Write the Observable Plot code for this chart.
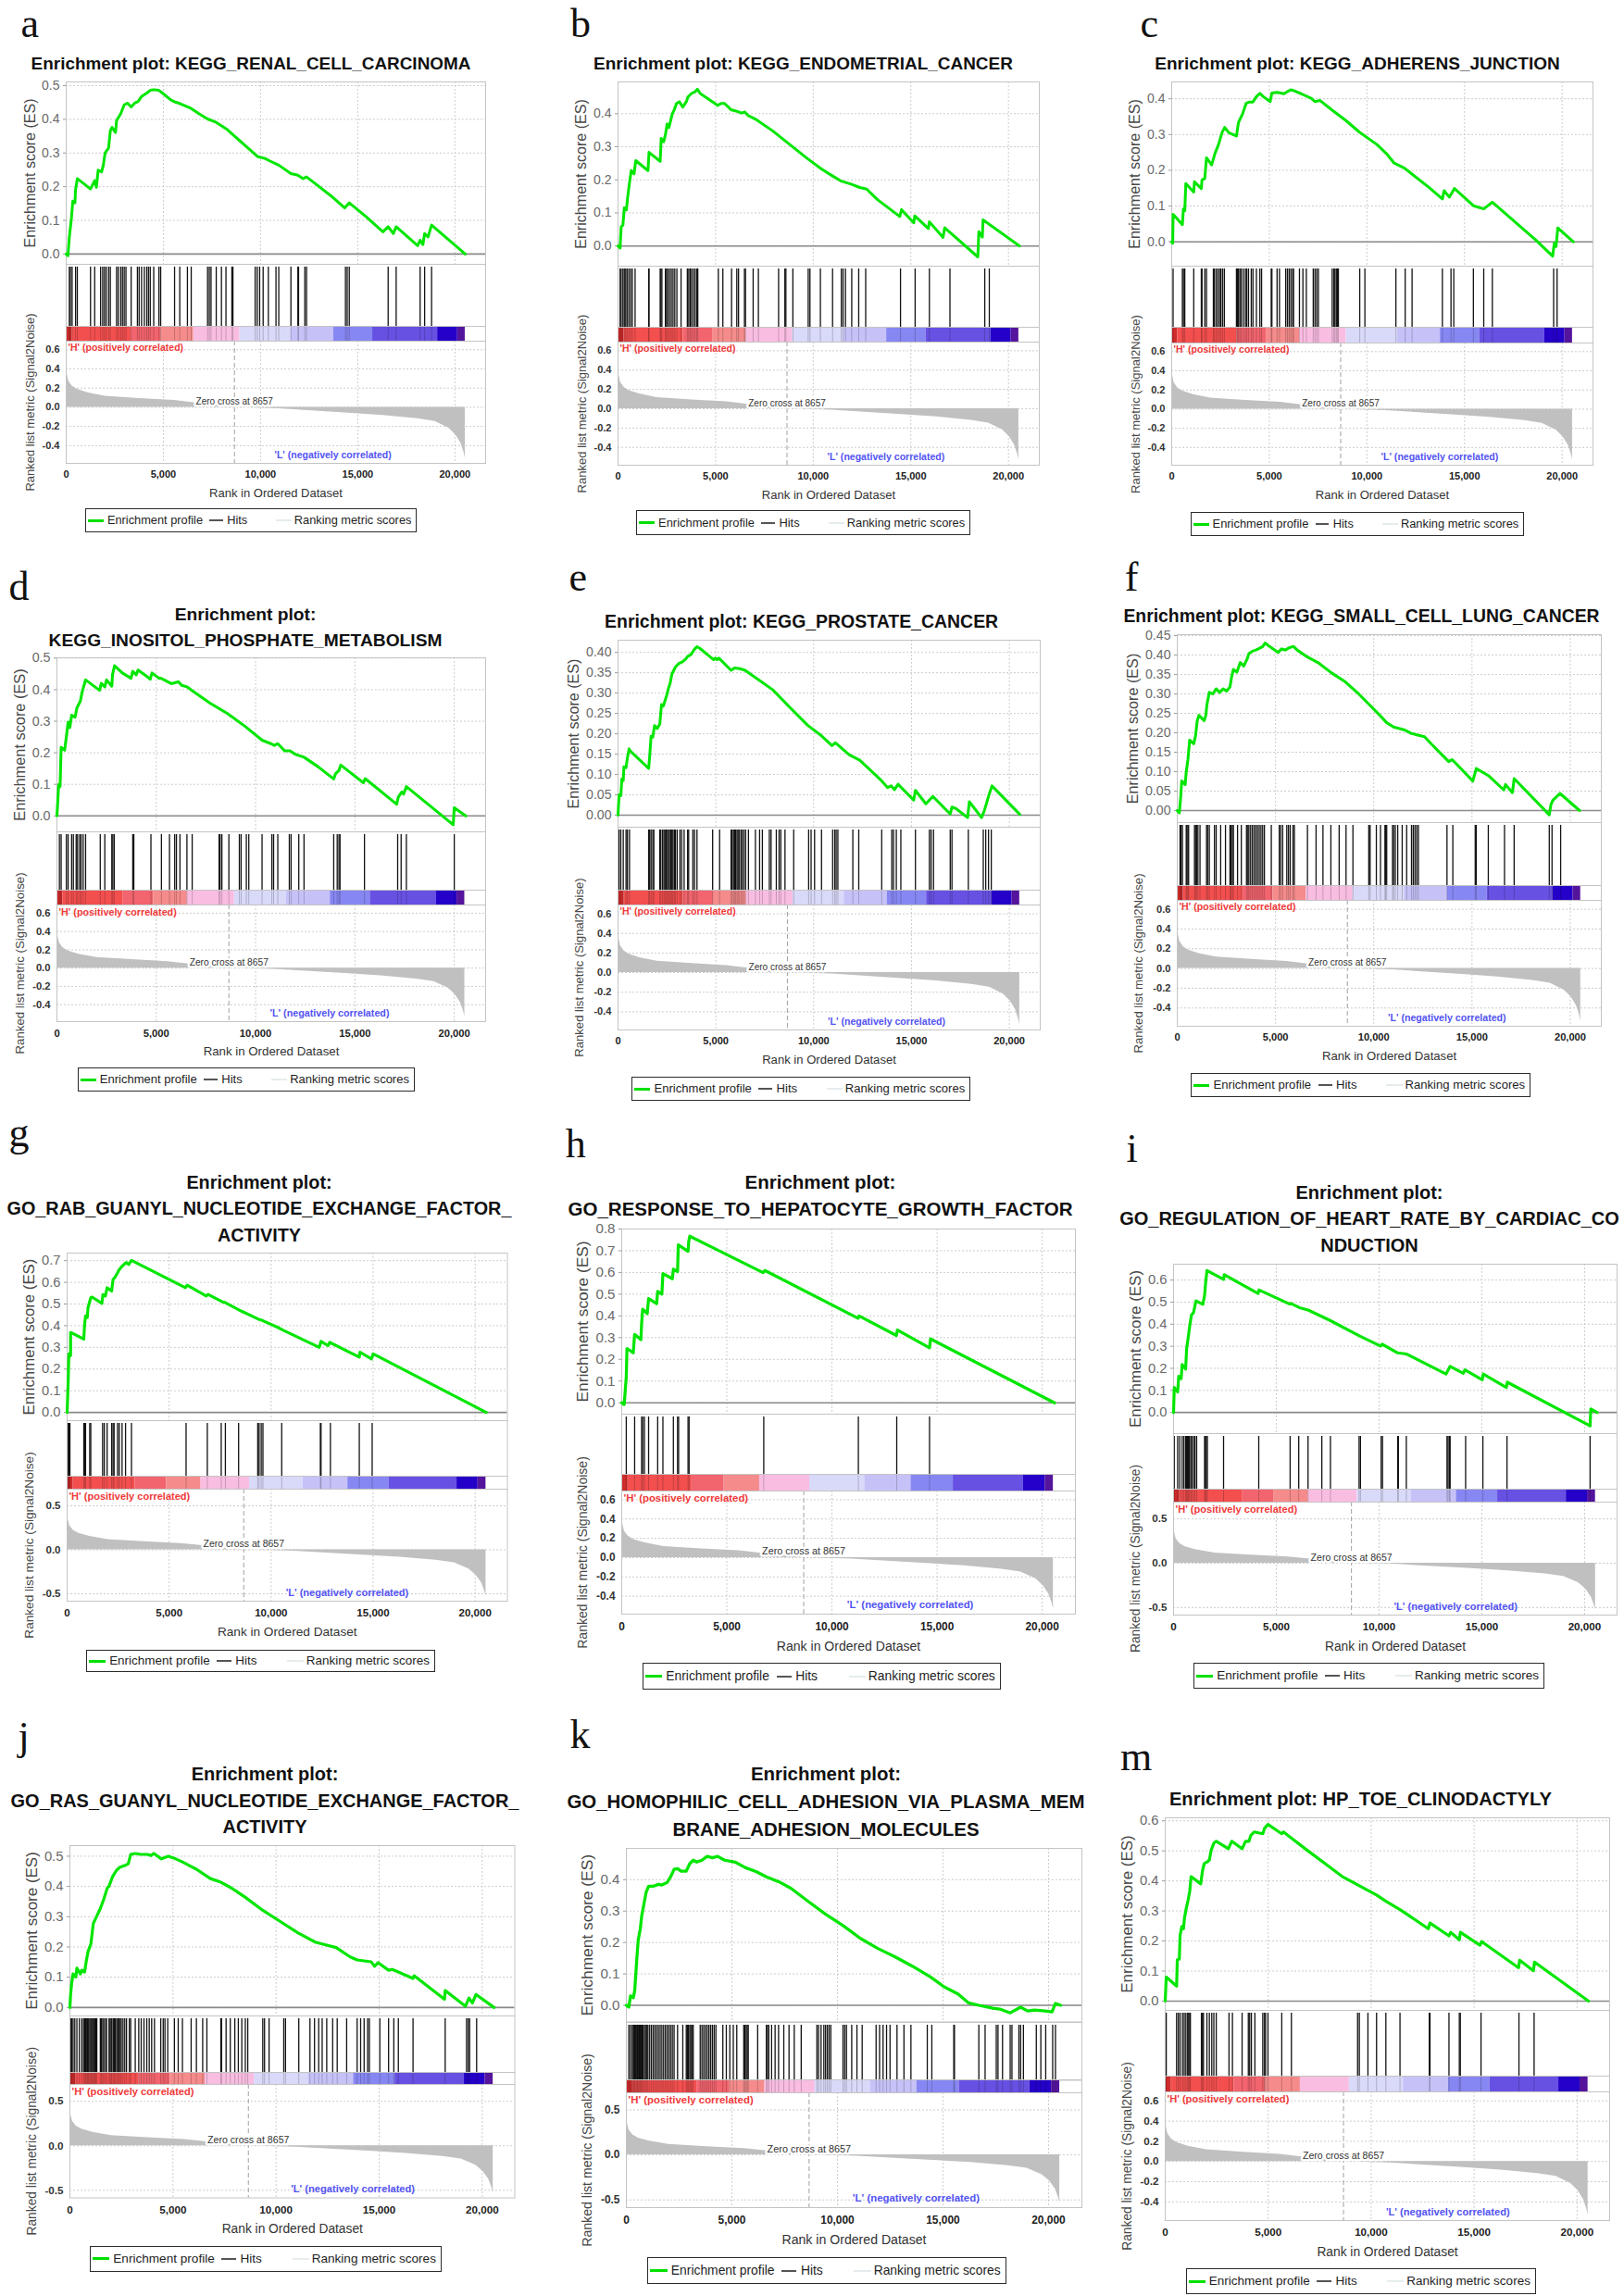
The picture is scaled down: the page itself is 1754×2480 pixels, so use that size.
<!DOCTYPE html>
<html><head><meta charset="utf-8">
<script src="https://cdn.jsdelivr.net/npm/d3@7"></script>
<script src="https://cdn.jsdelivr.net/npm/@observablehq/plot@0.6"></script>
<style>
body{margin:0;background:#fff;}
#root{position:relative;width:1754px;height:2480px;overflow:hidden;background:#fff;}
svg{overflow:visible}
</style></head><body><div id="root"></div>
<script>
// ---------- shared data ----------
const xTicks = [0, 5000, 10000, 15000, 20000];
const xMax = 21580;
const zeroCross = 8657;
const metricRanks  = [0, 36, 125, 304, 572, 1108, 2001, 3788, 5576, 6648, 8657, 10937, 14510, 16297, 18084, 18978, 19693, 20050, 20318, 20461, 20532];
const metricValues = [0.45, 0.36, 0.275, 0.222, 0.187, 0.152, 0.116, 0.092, 0.071, 0.046, 0.0, -0.014, -0.06, -0.085, -0.12, -0.148, -0.219, -0.29, -0.378, -0.466, -0.53];
const metricDomain = [-0.585, 0.69];
const metricTicksFine = [-0.4, -0.2, 0, 0.2, 0.4, 0.6];
const metricTicksCoarse = [-0.5, 0, 0.5];
const bandStarts = [0, 300, 3340, 4870, 6560, 8940, 11560, 13760, 15770, 19110, 20140];
const bandEnds   = [300, 3340, 4870, 6560, 8940, 11560, 13760, 15770, 19110, 20140, 20530];
const bandColors = ["#cf2b2b","#f34f4f","#f2646e","#f58b8b","#f9bde2","#d9d9f9","#c6c2f8","#8787f3","#6751e3","#2400c9","#54149c"];
const esTicks4 = [0, 0.1, 0.2, 0.3, 0.4];
const esTicks5 = [0, 0.1, 0.2, 0.3, 0.4, 0.5];
const esTicks6 = [0, 0.1, 0.2, 0.3, 0.4, 0.5, 0.6];
const esTicks7 = [0, 0.1, 0.2, 0.3, 0.4, 0.5, 0.6, 0.7];
const esTicks8 = [0, 0.1, 0.2, 0.3, 0.4, 0.5, 0.6, 0.7, 0.8];
const esTicksFine40 = [0, 0.05, 0.1, 0.15, 0.2, 0.25, 0.3, 0.35, 0.4];
const esTicksFine45 = [0, 0.05, 0.1, 0.15, 0.2, 0.25, 0.3, 0.35, 0.4, 0.45];

const panelLetters = ["a","b","c","d","e","f","g","h","i","j","k","m"];
const panelTitles = [
  ["Enrichment plot: KEGG_RENAL_CELL_CARCINOMA"],
  ["Enrichment plot: KEGG_ENDOMETRIAL_CANCER"],
  ["Enrichment plot: KEGG_ADHERENS_JUNCTION"],
  ["Enrichment plot:", "KEGG_INOSITOL_PHOSPHATE_METABOLISM"],
  ["Enrichment plot: KEGG_PROSTATE_CANCER"],
  ["Enrichment plot: KEGG_SMALL_CELL_LUNG_CANCER"],
  ["Enrichment plot:", "GO_RAB_GUANYL_NUCLEOTIDE_EXCHANGE_FACTOR_", "ACTIVITY"],
  ["Enrichment plot:", "GO_RESPONSE_TO_HEPATOCYTE_GROWTH_FACTOR"],
  ["Enrichment plot:", "GO_REGULATION_OF_HEART_RATE_BY_CARDIAC_CO", "NDUCTION"],
  ["Enrichment plot:", "GO_RAS_GUANYL_NUCLEOTIDE_EXCHANGE_FACTOR_", "ACTIVITY"],
  ["Enrichment plot:", "GO_HOMOPHILIC_CELL_ADHESION_VIA_PLASMA_MEM", "BRANE_ADHESION_MOLECULES"],
  ["Enrichment plot: HP_TOE_CLINODACTYLY"]
];

// ---------- enrichment score curves [rank, ES] ----------
const esA = [[0,0],[90,-0.005],[161,0.05],[270,0.107],[340,0.157],[450,0.152],[480,0.19],[572,0.224],[1251,0.193],[1466,0.218],[1555,0.198],[1644,0.249],[1822,0.244],[1912,0.264],[2001,0.3],[2180,0.315],[2270,0.366],[2359,0.376],[2538,0.361],[2591,0.396],[2806,0.417],[2984,0.443],[3163,0.448],[3342,0.437],[3521,0.448],[3700,0.453],[3878,0.468],[4146,0.478],[4325,0.486],[4503,0.488],[4771,0.486],[4950,0.478],[5397,0.457],[5576,0.452],[5844,0.447],[6237,0.437],[6433,0.432],[6826,0.417],[7273,0.401],[7720,0.391],[8256,0.371],[9150,0.325],[9865,0.289],[10222,0.284],[10490,0.276],[10937,0.264],[11562,0.239],[11920,0.234],[12188,0.224],[12366,0.229],[12724,0.213],[13617,0.173],[14332,0.137],[14564,0.152],[15404,0.112],[16297,0.066],[16565,0.081],[16834,0.061],[16977,0.081],[18084,0.025],[18210,0.041],[18353,0.028],[18442,0.061],[18620,0.051],[18799,0.086],[20530,0]];
const esB = [[0,0],[107,-0.006],[161,0.058],[250,0.063],[321,0.115],[428,0.109],[500,0.151],[589,0.192],[678,0.228],[821,0.218],[910,0.258],[1534,0.228],[1588,0.283],[2159,0.256],[2212,0.325],[2337,0.315],[2426,0.336],[2515,0.369],[2605,0.358],[2783,0.4],[2872,0.411],[2997,0.431],[3140,0.436],[3318,0.42],[3497,0.436],[3586,0.451],[3764,0.461],[3943,0.466],[4068,0.474],[4210,0.461],[5102,0.425],[5281,0.431],[5459,0.431],[5637,0.421],[5780,0.412],[6048,0.408],[6316,0.402],[6494,0.405],[6673,0.394],[7030,0.384],[7922,0.348],[8814,0.306],[9706,0.264],[10419,0.233],[10955,0.213],[11401,0.197],[11936,0.187],[12382,0.177],[12739,0.172],[13274,0.141],[14433,0.089],[14522,0.11],[15147,0.07],[15200,0.091],[15896,0.053],[15950,0.073],[16647,0.026],[16736,0.055],[18430,-0.033],[18484,0.043],[18663,0.027],[18698,0.079],[20568,0]];
const esC = [[0,0],[53,-0.004],[71,0.077],[547,0.048],[600,0.092],[670,0.087],[723,0.163],[1129,0.139],[1164,0.168],[1517,0.149],[1552,0.173],[1693,0.177],[1782,0.235],[2046,0.215],[2223,0.248],[2399,0.272],[2575,0.305],[2716,0.32],[2928,0.305],[3316,0.296],[3422,0.334],[3634,0.358],[3810,0.387],[3986,0.391],[4163,0.391],[4339,0.406],[4515,0.415],[4692,0.406],[5044,0.392],[5132,0.416],[5397,0.418],[5750,0.414],[5927,0.42],[6103,0.425],[6279,0.422],[6632,0.414],[7161,0.401],[7338,0.392],[7602,0.395],[8220,0.368],[8926,0.339],[9632,0.306],[10514,0.272],[11043,0.244],[11396,0.22],[11925,0.206],[12366,0.187],[13160,0.153],[13866,0.12],[13954,0.143],[14219,0.125],[14484,0.149],[15454,0.101],[15984,0.092],[16425,0.111],[18630,0.006],[19512,-0.04],[19600,-0.004],[19689,-0.013],[19777,0.039],[20571,0]];
const esD = [[0,0],[88,0.099],[158,0.093],[211,0.217],[387,0.208],[475,0.251],[563,0.297],[651,0.28],[739,0.319],[915,0.313],[1003,0.342],[1179,0.364],[1266,0.392],[1442,0.431],[2146,0.398],[2234,0.42],[2410,0.409],[2498,0.431],[2762,0.411],[2797,0.448],[2902,0.476],[3289,0.453],[3729,0.436],[3817,0.458],[3993,0.447],[4081,0.462],[4521,0.442],[4697,0.433],[4785,0.453],[5137,0.436],[5225,0.436],[5401,0.431],[5577,0.425],[5753,0.419],[5928,0.422],[6104,0.425],[6280,0.414],[6544,0.409],[6808,0.397],[7688,0.358],[8567,0.325],[9447,0.285],[10326,0.24],[10766,0.229],[10942,0.223],[11118,0.229],[11470,0.206],[11734,0.206],[11998,0.195],[12438,0.186],[13141,0.156],[13933,0.117],[14021,0.133],[14197,0.144],[14285,0.161],[15428,0.105],[15516,0.118],[17099,0.037],[17187,0.06],[17363,0.076],[17451,0.069],[17592,0.093],[19949,-0.028],[20001,0.026],[20581,0]];
const esE = [[0,0],[53,0.05],[142,0.048],[196,0.089],[267,0.085],[302,0.119],[409,0.117],[480,0.141],[569,0.163],[622,0.158],[1565,0.115],[1618,0.145],[1689,0.194],[1778,0.192],[1867,0.22],[2009,0.213],[2134,0.224],[2223,0.272],[2311,0.268],[2400,0.281],[2489,0.295],[2578,0.312],[2667,0.325],[2756,0.347],[2934,0.364],[3112,0.373],[3289,0.377],[3467,0.384],[3556,0.39],[3734,0.395],[3912,0.408],[4036,0.414],[4178,0.41],[4889,0.382],[4978,0.386],[5067,0.382],[5156,0.386],[5778,0.356],[5956,0.362],[6223,0.36],[6490,0.356],[6845,0.344],[7201,0.332],[7912,0.308],[8801,0.264],[9690,0.221],[10401,0.195],[10935,0.171],[11113,0.178],[11824,0.148],[12357,0.135],[13424,0.087],[13780,0.068],[13957,0.072],[14135,0.063],[14313,0.076],[15113,0.037],[15202,0.061],[15735,0.028],[16091,0.046],[16980,0.003],[17069,0.02],[17247,0.017],[17869,-0.006],[17958,0.033],[18580,-0.006],[18722,0.011],[18936,0.046],[19113,0.072],[20535,0.002]];
const esF = [[0,0],[105,-0.006],[175,0.035],[228,0.076],[403,0.067],[456,0.099],[543,0.131],[631,0.181],[841,0.172],[929,0.192],[1017,0.231],[1104,0.245],[1367,0.231],[1455,0.245],[1508,0.272],[1631,0.304],[1806,0.3],[1981,0.313],[2156,0.304],[2332,0.313],[2507,0.307],[2682,0.318],[2770,0.345],[2857,0.363],[3033,0.356],[3208,0.381],[3383,0.372],[3558,0.39],[3646,0.404],[3821,0.41],[3997,0.413],[4172,0.417],[4347,0.422],[4470,0.431],[4698,0.422],[5136,0.407],[5311,0.416],[5487,0.413],[5750,0.42],[5925,0.422],[6100,0.413],[6626,0.395],[7152,0.381],[7853,0.354],[8554,0.331],[9255,0.299],[9781,0.272],[10307,0.245],[10658,0.226],[11008,0.215],[11534,0.208],[11885,0.199],[12235,0.194],[12586,0.19],[12937,0.171],[13638,0.135],[13813,0.126],[13988,0.131],[14164,0.122],[15040,0.076],[15216,0.108],[15829,0.09],[16618,0.053],[16705,0.067],[17056,0.046],[17144,0.082],[18932,-0.011],[19020,0.016],[19107,0.026],[19475,0.044],[20474,0]];
const esG = [[0,0],[51,0.14],[85,0.27],[170,0.262],[170,0.369],[818,0.338],[852,0.4],[903,0.445],[989,0.438],[1023,0.483],[1159,0.529],[1227,0.532],[1704,0.503],[1756,0.544],[1875,0.537],[1960,0.575],[2182,0.56],[2250,0.613],[2352,0.624],[2472,0.644],[2557,0.659],[2693,0.674],[2813,0.685],[2898,0.692],[3018,0.682],[3154,0.701],[5796,0.575],[5882,0.587],[6819,0.537],[6905,0.544],[7587,0.511],[7757,0.506],[8524,0.468],[9377,0.43],[9547,0.425],[10400,0.389],[10570,0.38],[12360,0.3],[12446,0.328],[12787,0.308],[12872,0.323],[14321,0.255],[14355,0.278],[14918,0.247],[15003,0.27],[20544,0]];
const esH = [[0,0],[116,-0.008],[216,0.119],[249,0.25],[548,0.23],[614,0.315],[913,0.291],[946,0.366],[996,0.431],[1212,0.411],[1278,0.48],[1660,0.456],[1710,0.513],[1909,0.5],[1959,0.595],[2407,0.571],[2457,0.615],[2656,0.604],[2690,0.727],[3154,0.697],[3187,0.743],[3237,0.767],[6723,0.599],[6806,0.609],[11239,0.389],[11288,0.4],[13064,0.31],[13114,0.335],[14641,0.253],[14691,0.294],[20584,0]];
const esI = [[0,0],[34,0.113],[201,0.093],[252,0.164],[369,0.153],[419,0.217],[587,0.196],[638,0.29],[721,0.346],[789,0.394],[873,0.442],[973,0.453],[1091,0.506],[1426,0.49],[1510,0.531],[1560,0.587],[1627,0.643],[2433,0.603],[2467,0.624],[4111,0.539],[4161,0.555],[5655,0.491],[5705,0.494],[6124,0.475],[6544,0.464],[7215,0.435],[7634,0.416],[9060,0.346],[10067,0.301],[10151,0.309],[10906,0.27],[11326,0.265],[13256,0.174],[13457,0.209],[14094,0.177],[14178,0.193],[15017,0.148],[15067,0.174],[16191,0.113],[16241,0.137],[20268,-0.061],[20302,0.016],[20604,0]];
const esJ = [[0,0],[34,0.043],[85,0.08],[153,0.111],[288,0.101],[339,0.13],[508,0.111],[576,0.123],[712,0.117],[797,0.154],[881,0.185],[1017,0.21],[1136,0.278],[1305,0.302],[1475,0.327],[1644,0.358],[1814,0.395],[1898,0.401],[2068,0.432],[2237,0.451],[2407,0.463],[2661,0.469],[2831,0.475],[2950,0.506],[3170,0.509],[3424,0.506],[3763,0.506],[3933,0.502],[4068,0.509],[4441,0.491],[4611,0.496],[4780,0.5],[5034,0.494],[5458,0.481],[5797,0.469],[6136,0.457],[6814,0.426],[7322,0.414],[7831,0.395],[8509,0.364],[9356,0.321],[10204,0.284],[11051,0.247],[11899,0.216],[12407,0.207],[12916,0.198],[13594,0.167],[13933,0.157],[14611,0.151],[14780,0.136],[14950,0.148],[15458,0.123],[15628,0.126],[15797,0.121],[16645,0.096],[16695,0.105],[18170,0.027],[18204,0.056],[19187,0.004],[19356,0.031],[19526,0.015],[19695,0.043],[20576,0]];
const esK = [[0,0],[116,-0.006],[198,0.03],[330,0.024],[396,0.047],[495,0.148],[561,0.207],[660,0.243],[726,0.284],[825,0.32],[941,0.361],[1056,0.379],[1271,0.379],[1518,0.385],[1683,0.383],[1931,0.391],[2096,0.409],[2261,0.433],[2426,0.435],[2591,0.427],[2838,0.427],[3003,0.451],[3168,0.462],[3333,0.456],[3581,0.462],[3828,0.474],[4076,0.47],[4323,0.474],[4653,0.462],[5148,0.456],[5643,0.438],[6138,0.426],[6633,0.409],[7293,0.391],[7788,0.373],[8613,0.331],[9438,0.29],[10263,0.254],[11088,0.213],[11913,0.181],[12738,0.154],[13563,0.124],[14388,0.091],[15048,0.059],[15708,0.036],[16203,0.008],[16698,0],[17358,-0.009],[17688,-0.012],[18183,-0.024],[18678,-0.006],[19008,-0.018],[19338,-0.015],[19833,-0.018],[20163,-0.021],[20328,0.006],[20576,0]];
const esM = [[0,0],[50,0.08],[553,0.05],[586,0.137],[686,0.14],[720,0.218],[804,0.248],[887,0.241],[937,0.278],[1021,0.309],[1105,0.334],[1189,0.365],[1256,0.414],[1724,0.39],[1808,0.433],[1892,0.458],[2059,0.464],[2143,0.47],[2226,0.501],[2360,0.526],[2478,0.532],[3064,0.507],[3231,0.532],[3733,0.507],[3901,0.532],[4068,0.532],[4152,0.551],[4319,0.563],[4738,0.557],[4821,0.575],[4989,0.588],[5659,0.557],[5742,0.563],[6161,0.541],[6914,0.501],[7751,0.458],[8588,0.415],[9425,0.384],[10262,0.353],[10681,0.334],[11434,0.303],[12773,0.241],[12857,0.26],[13778,0.217],[13861,0.229],[14280,0.204],[14330,0.229],[15284,0.186],[15368,0.198],[17159,0.111],[17209,0.136],[17879,0.101],[17929,0.13],[20557,0]];

// ---------- hit positions (ranks) ----------
const hitsA = [161,214,304,483,572,1251,1466,1769,1877,1966,2055,2180,2270,2591,2681,2806,2895,2984,3074,3342,3664,3753,3878,4021,4146,4235,4325,4503,4771,4861,5576,5844,6237,6433,7273,7363,7452,7720,7988,8220,8524,8578,9722,9829,9954,10133,10401,10794,10937,11562,11920,11955,12277,12366,14368,14457,14564,16565,16977,18210,18442,18799];
const hitsB = [107,161,250,321,393,464,553,642,731,874,1570,1588,2159,2194,2248,2426,2480,2551,2640,2729,2818,2908,3015,3229,3550,3622,3693,3764,3854,3943,4032,4086,5138,5370,5816,6084,6173,6476,6530,6922,7190,8225,8546,8600,8957,9742,9831,10366,10990,11437,11526,11651,11972,12329,12686,14470,15219,15950,17003,18787,19019];
const hitsC = [71,547,600,670,1129,1517,1552,1693,1782,2134,2187,2275,2364,2452,2522,2611,2699,3316,3369,3422,3493,3563,3669,3775,3845,3934,4075,4163,4339,4516,4604,5098,5133,5398,5521,5839,5927,6015,6103,6191,6244,6544,6721,6897,7250,7338,7426,7514,8220,8308,8361,8432,8485,8538,9632,9896,11484,11960,12313,13866,14307,14449,15454,15984,16425,19565,19742];
const hitsD = [123,211,475,563,739,827,968,1038,1143,1214,1319,1442,2181,2410,2762,2815,2885,3817,3870,4732,5260,5665,5928,6016,6192,6544,6808,8162,8215,8303,8655,9183,9271,9535,9658,10326,10819,10907,11118,11698,11787,12174,12438,13933,14109,14197,14250,15481,17152,17327,17591,20001];
const hitsE = [53,142,267,409,480,587,1565,1618,1689,1778,1831,2134,2187,2276,2347,2400,2454,2525,2578,2632,2703,2756,2809,2880,2934,3023,3165,3254,3378,3556,3610,3823,3912,4036,4836,5192,5778,5832,5903,5956,6010,6081,6134,6187,6276,6347,6436,6525,6667,7023,7236,7379,7734,7823,8090,8232,8321,8534,8979,9743,9868,10046,10401,10970,11077,11148,11237,12002,12304,13478,13993,14082,14224,14456,15202,15913,16002,16126,16980,17069,17905,18669,18794,18936,19078];
const hitsF = [140,193,263,456,491,543,578,877,929,982,1052,1157,1490,1543,1630,1893,1981,2209,2454,2682,2734,2804,2857,3068,3260,3523,3594,3646,3734,3821,3909,3997,4084,4172,4260,4347,4435,4786,5189,5259,5364,5574,5662,5750,5890,5960,6626,7064,7415,7818,8238,8589,8940,9746,9816,10132,10342,10570,10605,10658,10956,11008,11096,11219,11447,11675,11920,12008,12095,12183,12271,13726,14024,15163,15216,15829,16653,17144,18932,19072,19511];
const hitsG = [34,85,136,818,870,903,1108,1159,1739,1824,1960,2182,2250,2302,2472,2557,2693,2864,3154,5831,6871,7553,7757,8405,9343,9411,9513,9598,10519,12412,12446,12906,14321,14952];
const hitsH = [216,614,946,996,1079,1278,1710,1959,2457,2656,2706,3154,3204,6756,11255,13081,14641];
const hitsI = [34,201,302,419,503,587,638,671,721,772,839,889,973,1040,1124,1510,1544,1594,1644,2433,4145,5672,6091,6544,7215,7634,9027,9094,10101,10168,10906,10940,11326,13306,13357,13424,13457,14212,15051,16225,20268];
const hitsJ = [34,85,153,237,339,458,576,661,712,763,797,848,881,915,966,1017,1051,1102,1136,1186,1220,1254,1305,1475,1526,1593,1644,1729,1780,1898,1949,2000,2034,2102,2153,2203,2271,2322,2373,2441,2492,2576,2661,2746,2882,2949,3170,3339,3458,3593,3729,3848,3966,4102,4407,4526,4610,4746,5068,5254,5458,5881,6136,6441,6644,7322,7356,7576,7780,8000,8170,8339,8509,8627,9356,9441,9661,10373,10458,11102,11644,11865,12068,12237,12458,12746,12966,13424,13932,14102,14271,14441,14526,15034,15458,15712,15932,16644,18204,19238,19322,19390,19729];
const hitsK = [116,198,281,330,363,396,446,495,528,561,611,660,693,743,792,858,908,974,1023,1106,1188,1271,1353,1436,1518,1601,1683,1766,1848,1931,2013,2096,2178,2261,2426,2673,2838,2888,2937,3003,3053,3102,3168,3498,3581,3663,3746,3828,3911,3993,4076,4158,4241,4571,4736,4901,5066,5231,5561,5610,5676,5726,5775,6221,6633,6683,6749,6881,7046,7211,7458,7706,7953,8283,9026,9108,9224,9356,9438,9521,9603,9686,10263,10346,10428,10676,10923,11171,11831,11996,12161,12326,12491,12821,13151,13481,14256,14471,15510,15543,16698,16995,17523,17606,17820,18183,18266,18596,18678,18810,19421,19635,19866,20196,20328];
const hitsM = [50,552,636,720,837,921,1004,1088,1138,1189,1222,1758,1808,1858,2025,2143,2260,2360,2478,3097,3264,3733,4035,4102,4185,4353,4738,4821,4872,4989,5659,6127,9341,9425,9843,10262,10714,11400,12823,12857,13778,14280,14330,15334,17176,17912];

const esCurves = [esA, esB, esC, esD, esE, esF, esG, esH, esI, esJ, esK, esM];
const hitLists = [hitsA, hitsB, hitsC, hitsD, hitsE, hitsF, hitsG, hitsH, hitsI, hitsJ, hitsK, hitsM];
const esTickSets = [esTicks5, esTicks4, esTicks4, esTicks5, esTicksFine40, esTicksFine45, esTicks7, esTicks8, esTicks6, esTicks5, esTicks4, esTicks6];
const metricTickSets = [metricTicksFine, metricTicksFine, metricTicksFine, metricTicksFine, metricTicksFine, metricTicksFine, metricTicksCoarse, metricTicksFine, metricTicksCoarse, metricTicksCoarse, metricTicksCoarse, metricTicksFine];

// ---------- layout (pixel positions / sizes only) ----------
const layout = [
 {lx:22.6, ly:40, tx:271, ty:[68.4], tw:475, L:71, R:524, T:88, esB:285, bandT:352, bandB:368, B:500, esDom:[-0.0305,0.511], legend:[92,450,549,575]},
 {lx:616, ly:40, tx:867.5, ty:[68.4], tw:453, L:667, R:1122, T:88, esB:287, bandT:353, bandB:369, B:502, esDom:[-0.061,0.496], legend:[687,1048,551,578]},
 {lx:1231.5, ly:40, tx:1466, ty:[68.4], tw:437.5, L:1265, R:1720, T:88, esB:287, bandT:353, bandB:370, B:502, esDom:[-0.068,0.447], legend:[1285.5,1646,553,579]},
 {lx:9.4, ly:647.8, tx:265, ty:[663,691], tw:425, L:61, R:524, T:710, esB:898, bandT:961, bandB:977, B:1103, esDom:[-0.0505,0.501], legend:[83.5,447.7,1153,1179]},
 {lx:614.5, ly:638, tx:865.6, ty:[670.8], tw:425, L:667, R:1123, T:691, esB:893, bandT:961, bandB:977, B:1112, esDom:[-0.0295,0.43], legend:[682,1048,1163,1189]},
 {lx:1214.7, ly:638, tx:1470.5, ty:[665], tw:514, L:1271, R:1729, T:685, esB:888, bandT:956, bandB:972, B:1108, esDom:[-0.031,0.4526], legend:[1286,1653,1159,1185]},
 {lx:9.4, ly:1238, tx:280, ty:[1276.4,1305,1333.6], tw:545, L:71.5, R:547, T:1353, esB:1534, bandT:1594, bandB:1608, B:1729, esDom:[-0.038,0.735], legend:[93,470,1782,1806]},
 {lx:610.7, ly:1250, tx:886, ty:[1276.7,1305.8], tw:545, L:671, R:1161, T:1327, esB:1527, bandT:1592, bandB:1610, B:1743, esDom:[-0.0525,0.80], legend:[693.5,1081,1796,1825]},
 {lx:1216.6, ly:1255, tx:1479, ty:[1287.4,1316.1,1344.8], tw:540, L:1267, R:1746, T:1365, esB:1548, bandT:1608, bandB:1622, B:1744, esDom:[-0.096,0.672], legend:[1289,1668,1796,1824]},
 {lx:19.6, ly:1890, tx:286, ty:[1915.5,1945.2,1973.3], tw:549, L:74.5, R:555, T:1993, esB:2177, bandT:2238, bandB:2251, B:2373.5, esDom:[-0.028,0.535], legend:[97,477,2426,2453.5]},
 {lx:615.6, ly:1888, tx:892, ty:[1915.5,1945.2,1975.4], tw:559, L:676, R:1168, T:1996, esB:2183.5, bandT:2246, bandB:2260, B:2384, esDom:[-0.053,0.4996], legend:[699,1087,2438,2467]},
 {lx:1210, ly:1912, tx:1469.4, ty:[1942.4], tw:413, L:1258, R:1738, T:1963, esB:2171, bandT:2242, bandB:2259, B:2398, esDom:[-0.031,0.61], legend:[1280.6,1659,2450,2478]}
];

// ---------- drawing ----------
const root = document.getElementById("root");
const FONT = '"Liberation Sans", Arial, Helvetica, sans-serif';
const SERIF = '"Liberation Serif", "Times New Roman", serif';
const overlay = d3.select(root).append("svg")
  .attr("width", 1754).attr("height", 2480)
  .style("position", "absolute").style("left", "0px").style("top", "0px");

const ML = 70, MR = 12, MT = 12, MB = 50;
const gridStyle = {stroke: "#cdcdcd", strokeOpacity: 1, strokeDasharray: "2,2"};

function place(node, left, top) {
  node.style.position = "absolute";
  node.style.left = left + "px";
  node.style.top = top + "px";
  root.appendChild(node);
}

function drawPanel(i) {
  const p = layout[i];
  const W = p.R - p.L, k = W / 453;
  const xDom = [0, xMax];
  const style = {background: "transparent", overflow: "visible", fontFamily: FONT};
  const esTicks = esTickSets[i];
  const esDigits = esTicks[1] === 0.05 ? 2 : 1;
  const esLabelDx = esDigits === 2 ? -47 * k : -39 * k;
  const mLabelDx = esDigits === 2 ? -41 * k : -39 * k;
  const mTicks = metricTickSets[i];

  // panel letter
  overlay.append("text").attr("x", p.lx).attr("y", p.ly)
    .attr("font-family", SERIF).attr("font-size", 44).attr("fill", "#111").text(panelLetters[i]);

  // title
  const tg = overlay.append("g").attr("font-family", FONT).attr("font-weight", "bold")
    .attr("text-anchor", "middle").attr("fill", "#111").attr("font-size", 19 * k);
  const texts = panelTitles[i].map((s, j) => tg.append("text").attr("x", p.tx).attr("y", p.ty[j]).text(s));
  const maxW = d3.max(texts, t => t.node().getComputedTextLength());
  const fs = 19 * k * p.tw / maxW;
  tg.attr("font-size", fs);
  texts.forEach((t, j) => t.attr("y", p.ty[j] + 0.36 * fs));

  // enrichment score section
  const es = esCurves[i].map(([r, v]) => ({r, v}));
  const esPlot = Plot.plot({
    width: W + ML + MR, height: p.esB - p.T + MT,
    marginLeft: ML, marginRight: MR, marginTop: MT, marginBottom: 0,
    style,
    x: {domain: xDom, axis: null},
    y: {domain: p.esDom, axis: null},
    marks: [
      Plot.gridX(xTicks.slice(1), gridStyle),
      Plot.gridY(esTicks, gridStyle),
      Plot.ruleY([0], {stroke: "#8a8a8a", strokeWidth: 1.6}),
      Plot.frame({stroke: "#c4c4c4"}),
      Plot.axisY(esTicks, {tickFormat: d => d.toFixed(esDigits), fontSize: 14 * k, fill: "#6a6a6a", stroke: "#9a9a9a", tickSize: 3, tickPadding: 4, label: null}),
      Plot.line(es, {x: "r", y: "v", stroke: "#00e600", strokeWidth: 3 * k}),
      Plot.text(["Enrichment score (ES)"], {text: d => d, frameAnchor: "left", textAnchor: "middle", lineAnchor: "middle", rotate: -90, dx: esLabelDx, fontSize: 16 * k, fill: "#474747"})
    ]
  });
  place(esPlot, p.L - ML, p.T - MT);

  // hits section
  const hitsPlot = Plot.plot({
    width: W + ML + MR, height: p.bandT - p.esB,
    marginLeft: ML, marginRight: MR, marginTop: 0, marginBottom: 0,
    style,
    x: {domain: xDom, axis: null},
    marks: [
      Plot.ruleX(hitLists[i], {x: d => d, stroke: "#111", strokeWidth: 1.3, insetTop: 3}),
      Plot.frame({stroke: "#c4c4c4"})
    ]
  });
  place(hitsPlot, p.L - ML, p.esB);

  // color band
  const bandIdx = d3.range(bandStarts.length);
  const bandPlot = Plot.plot({
    width: W + ML + MR, height: p.bandB - p.bandT,
    marginLeft: ML, marginRight: MR, marginTop: 0, marginBottom: 0,
    style,
    color: {type: "identity"},
    x: {domain: xDom, axis: null},
    marks: [
      Plot.barX(bandIdx, {x1: j => bandStarts[j], x2: j => bandEnds[j], fill: j => bandColors[j]}),
      Plot.ruleX(hitLists[i], {x: d => d, stroke: "#000", strokeOpacity: 0.2}),
      Plot.frame({stroke: "#c4c4c4"})
    ]
  });
  place(bandPlot, p.L - ML, p.bandT);

  // ranked list metric section
  const metric = metricRanks.map((r, j) => ({r, v: metricValues[j]}));
  const mPlot = Plot.plot({
    width: W + ML + MR, height: p.B - p.bandB + MB,
    marginLeft: ML, marginRight: MR, marginTop: 0, marginBottom: MB,
    style,
    x: {domain: xDom, axis: null},
    y: {domain: metricDomain, axis: null},
    marks: [
      Plot.gridX(xTicks.slice(1), gridStyle),
      Plot.gridY(mTicks, gridStyle),
      Plot.areaY(metric, {x: "r", y: "v", fill: "#c0c0c0"}),
      Plot.ruleX([zeroCross], {stroke: "#a0a0a0", strokeDasharray: "5,3"}),
      Plot.text([`Zero cross at ${zeroCross}`], {text: d => d, x: () => zeroCross, y: () => 0, dy: -6 * k, fontSize: 10 * k, fill: "#333", stroke: "white", strokeWidth: 5}),
      Plot.text(["'H' (positively correlated)"], {text: d => d, frameAnchor: "top-left", textAnchor: "start", lineAnchor: "middle", dx: 2, dy: 7.5 * k, fill: "#f03a3a", fontSize: 10.5 * k, fontWeight: "bold"}),
      Plot.text(["'L' (negatively correlated)"], {text: d => d, frameAnchor: "bottom", textAnchor: "middle", lineAnchor: "middle", dx: 0.136 * W, dy: -9 * k, fill: "#5353f2", fontSize: 10.5 * k, fontWeight: "bold"}),
      Plot.frame({stroke: "#c4c4c4"}),
      Plot.axisY(mTicks, {tickFormat: d => d.toFixed(1), fontSize: 11 * k, fontWeight: "bold", fill: "#333", tickSize: 0, tickPadding: 7, label: null}),
      Plot.axisX(xTicks, {tickFormat: d3.format(","), fontSize: 11 * k, fontWeight: "bold", fill: "#222", tickSize: 0, tickPadding: 8 * k, label: null}),
      Plot.text(["Rank in Ordered Dataset"], {text: d => d, frameAnchor: "bottom", textAnchor: "middle", lineAnchor: "middle", dy: 32 * k, fontSize: 13 * k, fill: "#333"}),
      Plot.text(["Ranked list metric (Signal2Noise)"], {text: d => d, frameAnchor: "left", textAnchor: "middle", lineAnchor: "middle", rotate: -90, dx: mLabelDx, fontSize: 13 * k, fill: "#474747"})
    ]
  });
  place(mPlot, p.L - ML, p.bandB);

  // legend
  const [x1, x2, y1, y2] = p.legend;
  const lw = x2 - x1, lk = lw / 358;
  const box = document.createElement("div");
  box.style.cssText = `position:absolute;left:${x1}px;top:${y1}px;width:${lw}px;height:${y2 - y1}px;border:1.5px solid #2b2b2b;box-sizing:border-box;font-family:${FONT};font-size:${12.8 * lk}px;color:#1e1e1e;background:#fff;`;
  const seg = (a, b, color, h) => {
    const s = document.createElement("span");
    s.style.cssText = `position:absolute;left:${a * lw}px;width:${(b - a) * lw}px;top:50%;height:${h}px;margin-top:${-h / 2}px;background:${color};`;
    box.appendChild(s);
  };
  const txt = (a, t) => {
    const s = document.createElement("span");
    s.style.cssText = `position:absolute;left:${a * lw}px;top:50%;transform:translateY(-50%);white-space:nowrap;line-height:1;`;
    s.textContent = t;
    box.appendChild(s);
  };
  seg(0.0056, 0.053, "#00e000", 3);
  txt(0.064, "Enrichment profile");
  seg(0.372, 0.413, "#555", 2);
  txt(0.425, "Hits");
  seg(0.573, 0.62, "#e6ecee", 2);
  txt(0.628, "Ranking metric scores");
  root.appendChild(box);
}

for (let i = 0; i < layout.length; i++) drawPanel(i);
</script>
</body></html>
